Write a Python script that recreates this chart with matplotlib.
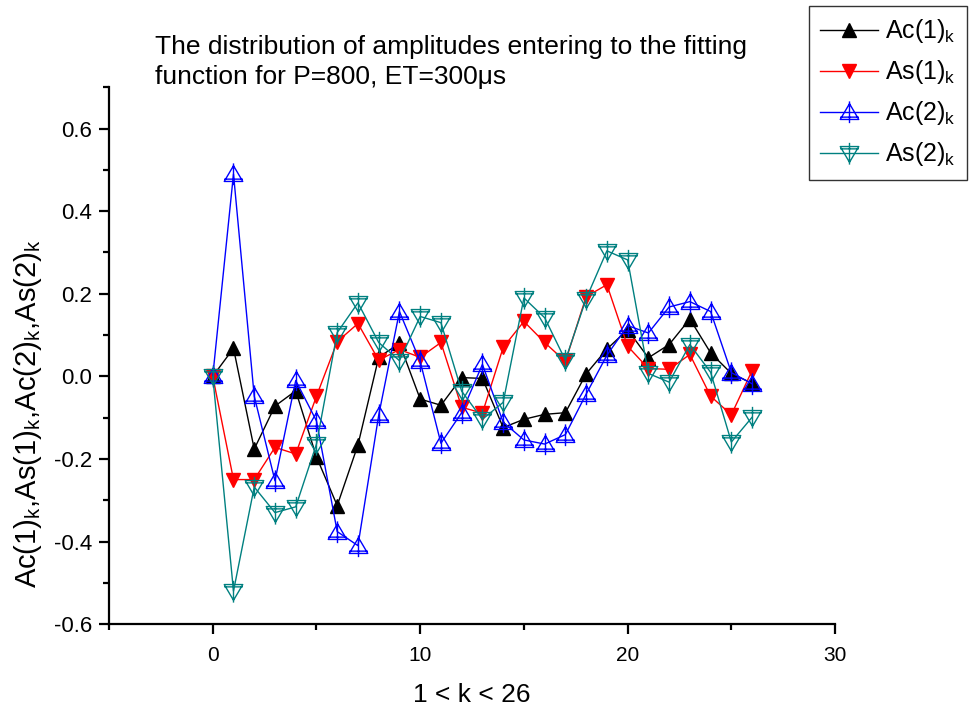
import matplotlib.pyplot as plt
from matplotlib.path import Path
from matplotlib.ticker import MultipleLocator
import numpy as np

plt.rcParams['font.family'] = ['Liberation Sans', 'DejaVu Sans']
plt.rcParams['mathtext.fontset'] = 'custom'
plt.rcParams['mathtext.rm'] = 'Liberation Sans'

k = np.arange(27)
ac1 = [0.0, 0.068, -0.176, -0.072, -0.035, -0.195, -0.313, -0.166, 0.046, 0.08,
       -0.055, -0.07, -0.003, -0.005, -0.124, -0.104, -0.092, -0.088, 0.006, 0.066,
       0.113, 0.045, 0.077, 0.139, 0.057, 0.007, -0.017]
as1 = [0.0, -0.25, -0.25, -0.172, -0.188, -0.048, 0.084, 0.128, 0.039, 0.065,
       0.046, 0.082, -0.075, -0.089, 0.07, 0.133, 0.082, 0.036, 0.193, 0.222,
       0.073, 0.019, 0.017, 0.053, -0.048, -0.093, 0.014]
ac2 = [0.0, 0.49, -0.048, -0.253, -0.01, -0.108, -0.376, -0.41, -0.094, 0.157,
       0.036, -0.162, -0.088, 0.029, -0.111, -0.154, -0.164, -0.141, -0.043, 0.051,
       0.123, 0.105, 0.168, 0.181, 0.157, 0.009, -0.018]
as2 = [0.0, -0.52, -0.268, -0.33, -0.316, -0.164, 0.106, 0.178, 0.082, 0.038,
       0.145, 0.13, -0.036, -0.104, -0.063, 0.19, 0.142, 0.039, 0.188, 0.304,
       0.282, 0.007, -0.014, 0.077, 0.01, -0.159, -0.099]
labels = [r'Ac(1)$_\mathrm{k}$', r'As(1)$_\mathrm{k}$',
          r'Ac(2)$_\mathrm{k}$', r'As(2)$_\mathrm{k}$']

teal = '#008080'


# Origin-like open triangle with a cross through it
def cross_tri(s):
    verts = [(-1, -0.75 * s), (1, -0.75 * s), (0, 0.95 * s), (0, 0),
             (0, 1.2 * s), (0, -1.15 * s),
             (-1, -0.5 * s), (1, -0.5 * s)]
    codes = [Path.MOVETO, Path.LINETO, Path.LINETO, Path.CLOSEPOLY,
             Path.MOVETO, Path.LINETO, Path.MOVETO, Path.LINETO]
    return Path(verts, codes)


fig = plt.figure(figsize=(9.7, 7.1), dpi=100)
ax = fig.add_axes([0.1124, 0.121, 0.7485, 0.756])

l1, = ax.plot(k, ac1, '-^', color='black', lw=1, ms=10, mfc='black', mec='black')
l2, = ax.plot(k, as1, '-v', color='red', lw=1, ms=10, mfc='red', mec='red')
l3, = ax.plot(k, ac2, '-', color='blue', lw=1, marker=cross_tri(1), ms=16,
              mfc='none', mec='blue', mew=1)
l4, = ax.plot(k, as2, '-', color=teal, lw=1, marker=cross_tri(-1), ms=16,
              mfc='none', mec=teal, mew=1)

ax.set_xlim(-5, 30)
ax.set_ylim(-0.6, 0.7)
ax.xaxis.set_major_locator(MultipleLocator(10))
ax.xaxis.set_minor_locator(MultipleLocator(5))
ax.yaxis.set_major_locator(MultipleLocator(0.2))
ax.yaxis.set_minor_locator(MultipleLocator(0.1))
ax.yaxis.set_major_formatter(plt.FuncFormatter(lambda v, p: '%.1f' % v))
for s in ['top', 'right']:
    ax.spines[s].set_visible(False)
for s in ['left', 'bottom']:
    ax.spines[s].set_linewidth(1.6)
ax.tick_params(which='both', direction='out', width=1.6)
ax.tick_params(which='major', length=7)
ax.tick_params(which='minor', length=4.5)
ax.tick_params(axis='y', labelsize=16, pad=5)
ax.tick_params(axis='x', labelsize=15, pad=9)

ax.set_xlabel('1 < k < 26', fontsize=19, labelpad=13)
ax.set_ylabel(r'Ac(1)$_\mathrm{k}$,As(1)$_\mathrm{k}$,Ac(2)$_\mathrm{k}$,As(2)$_\mathrm{k}$',
              fontsize=21)
ax.yaxis.set_label_coords(-0.089, 0.393)

fig.text(0.16, 0.875, 'The distribution of amplitudes entering to the fitting\n'
         'function for P=800, ET=300\u03bcs', fontsize=19, ha='left', va='bottom',
         linespacing=1.3)

leg = fig.legend([l1, l2, l3, l4], labels,
                 loc='upper right', bbox_to_anchor=(0.997, 0.9915),
                 fontsize=18, frameon=True, fancybox=False, edgecolor='black',
                 handlelength=2.3, handletextpad=0.3, labelspacing=0.52,
                 borderpad=0.45, borderaxespad=0)
leg.get_frame().set_linewidth(1)

fig.savefig('out.png', dpi=100)
